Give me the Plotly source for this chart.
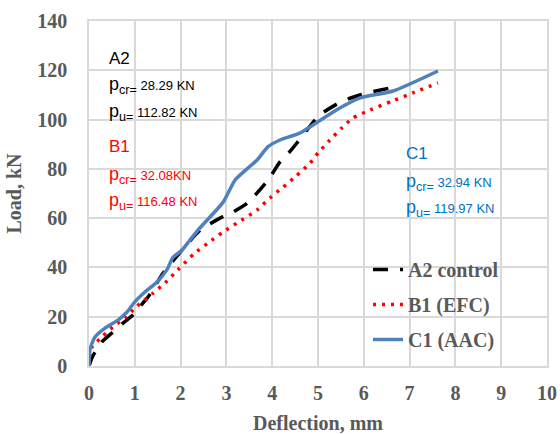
import plotly.graph_objects as go

# A2 control (black dashed)
a2_x = [0.0, 0.07, 0.28, 0.50, 0.74, 0.96, 1.18, 1.29, 1.62, 2.03, 2.42, 2.86, 3.03, 3.45, 3.91, 4.17, 4.32, 4.54, 4.76, 5.04, 5.48, 5.66, 6.07, 6.68, 6.78]
a2_y = [0.0, 3.6, 9.7, 13.4, 17.4, 20.7, 25.6, 28.0, 37.7, 47.0, 55.0, 60.0, 61.3, 66.0, 75.5, 82.8, 85.6, 90.5, 95.8, 101.9, 107.0, 108.4, 110.8, 113.2, 113.5]

# B1 (EFC) (red dotted)
b1_x = [0.0, 0.02, 0.05, 0.28, 0.57, 0.79, 1.00, 1.40, 1.66, 1.94, 2.31, 2.60, 2.93, 3.23, 3.67, 3.95, 4.24, 4.50, 4.83, 5.00, 5.26, 5.52, 5.76, 6.14, 6.62, 7.07, 7.62]
b1_y = [0.0, 4.5, 7.3, 11.8, 16.6, 19.5, 23.5, 29.6, 33.7, 39.0, 45.8, 49.9, 54.4, 58.0, 63.3, 68.2, 72.6, 76.7, 82.4, 86.4, 91.7, 96.6, 100.6, 103.9, 107.5, 110.8, 114.9]

# C1 (AAC) (blue solid)
c1_x = [0.0, 0.02, 0.13, 0.35, 0.64, 0.83, 1.00, 1.22, 1.48, 1.70, 1.83, 2.03, 2.20, 2.42, 2.93, 3.19, 3.45, 3.67, 3.91, 4.17, 4.61, 5.41, 5.92, 6.64, 7.62]
c1_y = [0.0, 6.5, 11.8, 15.4, 18.7, 21.9, 26.0, 30.0, 34.0, 39.0, 44.0, 47.0, 51.0, 56.0, 66.5, 75.5, 80.0, 83.6, 89.0, 91.7, 94.6, 104.0, 108.8, 111.6, 119.7]

x_ticks = [0, 1, 2, 3, 4, 5, 6, 7, 8, 9, 10]
y_ticks = [0, 20, 40, 60, 80, 100, 120, 140]

fig = go.Figure()
fig.add_trace(go.Scatter(x=a2_x, y=a2_y, mode="lines", name="A2 control", legendgroup="a",
                         line=dict(color="black", width=3.5, dash="15px,12px", shape="spline", smoothing=0.6)))
fig.add_trace(go.Scatter(x=b1_x, y=b1_y, mode="lines", name="B1 (EFC)", legendgroup="b",
                         line=dict(color="#ff0000", width=3.5, dash="3px,6px", shape="spline", smoothing=0.6)))
fig.add_trace(go.Scatter(x=c1_x, y=c1_y, mode="lines", name="C1 (AAC)", legendgroup="c",
                         line=dict(color="#4f81bd", width=3.5, shape="spline", smoothing=0.6)))

serif_bold = dict(family="Liberation Serif", size=20, color="#595959", weight="bold")
fig.update_xaxes(range=[0, 10], tickvals=x_ticks, showgrid=True, gridcolor="#d9d9d9", gridwidth=1.5,
                 zeroline=False, showline=True, linecolor="#d9d9d9", linewidth=1.5, mirror=True,
                 tickfont=serif_bold, ticklabelstandoff=8, automargin=False,
                 title=dict(text="Deflection, mm", font=serif_bold, standoff=27))
fig.update_yaxes(range=[0, 140], tickvals=y_ticks, showgrid=True, gridcolor="#d9d9d9", gridwidth=1.5,
                 zeroline=False, showline=True, linecolor="#d9d9d9", linewidth=1.5, mirror=True,
                 tickfont=serif_bold, ticklabelstandoff=16, automargin=False,
                 title=dict(text="Load, kN", font=serif_bold, standoff=10))

def ann(text, px, py, color, size=17):
    fig.add_annotation(x=px, y=py, xref="paper", yref="paper", text=text, showarrow=False,
                       xanchor="left", yanchor="middle",
                       font=dict(family="Liberation Sans", size=size, color=color))

W = 458.0
H = 345.0
def paper(xp, yp):
    return (xp - 89) / W, (366 - yp) / H

def label(name, pcr, pu, xp, y0, dy1, dy2, color):
    x0, yy = paper(xp, y0)
    ann(name, x0, yy, color, 17)
    _, yy = paper(xp, y0 + dy1)
    ann("p<sub>cr=</sub><span style='font-size:13px'> " + pcr + "</span>", x0, yy, color, 18)
    _, yy = paper(xp, y0 + dy2)
    ann("p<sub>u=</sub><span style='font-size:13px'> " + pu + "</span>", x0, yy, color, 18)

label("A2", "28.29 KN", "112.82 KN", 107, 59, 27, 53, "black")
label("B1", "32.08KN", "116.48 KN", 107, 146, 29, 55, "#ff0000")
label("C1", "32.94 KN", "119.97 KN", 404, 153, 29, 55, "#0070c0")

fig.update_layout(
    width=560, height=434,
    margin=dict(l=89, r=13, t=21, b=68),
    plot_bgcolor="white", paper_bgcolor="white",
    showlegend=True,
    legend=dict(x=(368 - 89) / W, y=(366 - 250) / H, xanchor="left", yanchor="top",
                bgcolor="rgba(255,255,255,0)",
                font=serif_bold, tracegroupgap=6, itemwidth=30),
)

fig.write_html("out.html")
